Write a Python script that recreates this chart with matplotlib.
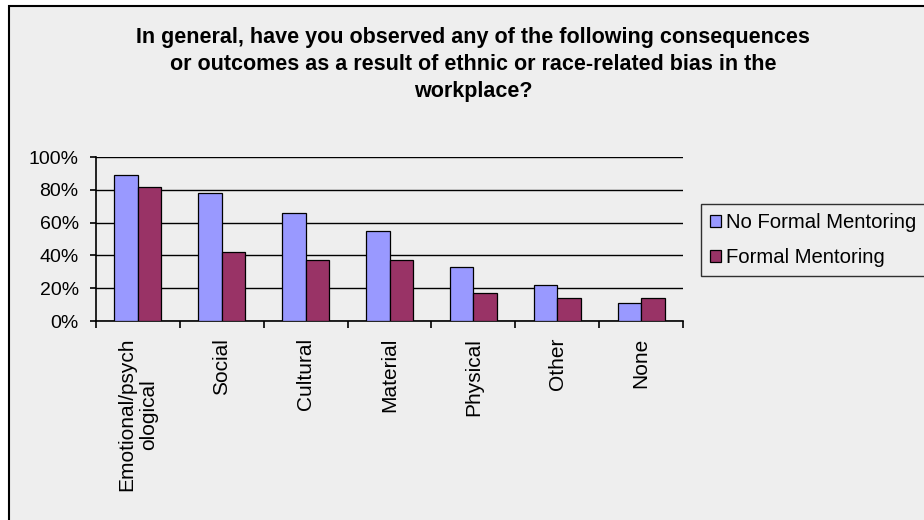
import numpy as np
import matplotlib.pyplot as plt
from matplotlib.patches import Rectangle

categories = ["Emotional/psych\nological", "Social", "Cultural", "Material",
              "Physical", "Other", "None"]
no_formal = [89, 78, 66, 55, 33, 22, 11]
formal = [82, 42, 37, 37, 17, 14, 14]
yticks = [0, 20, 40, 60, 80, 100]

plt.rcParams['font.family'] = ['Liberation Sans', 'DejaVu Sans']

W, H = 924, 520
fig = plt.figure(figsize=(W / 100, H / 100), dpi=100, facecolor='white')

# chart area frame (runs off right/bottom edges like the source)
frame = Rectangle((9 / W, -0.05), 1.0, 1 - 6 / H + 0.05,
                  transform=fig.transFigure, facecolor='#EEEEEE',
                  edgecolor='black', linewidth=1.5, zorder=-10)
fig.add_artist(frame)

ax = fig.add_axes([96 / W, 1 - 321 / H, (683 - 96) / W, (321 - 157) / H])
ax.set_facecolor('none')

x = np.arange(len(categories))
w = 0.28
ax.bar(x - w / 2, no_formal, w, color='#9999FF', edgecolor='black',
       linewidth=0.9, label='No Formal Mentoring', zorder=3)
ax.bar(x + w / 2, formal, w, color='#993366', edgecolor='black',
       linewidth=0.9, label='Formal Mentoring', zorder=3)

ax.set_xlim(-0.5, len(categories) - 0.5)
ax.set_ylim(0, 100)
ax.set_yticks(yticks)
ax.set_yticklabels([f"{v}%" for v in yticks], fontsize=14)
ax.yaxis.grid(True, color='black', linewidth=1.0, zorder=1)
ax.tick_params(axis='y', length=4.5, width=1.2, pad=8)

ax.set_xticks(x)
ax.set_xticklabels(categories, rotation=90, fontsize=15, va='top',
                   ha='center', multialignment='center')
ax.tick_params(axis='x', length=0, pad=12)
ax.set_xticks(np.arange(-0.5, len(categories)), minor=True)
ax.tick_params(axis='x', which='minor', length=5, width=1.2)

for s in ['top', 'right']:
    ax.spines[s].set_visible(False)
for s in ['left', 'bottom']:
    ax.spines[s].set_linewidth(1.2)

fig.text(473 / W, 1 - 27 / H,
         "In general, have you observed any of the following consequences\n"
         "or outcomes as a result of ethnic or race-related bias in the\n"
         "workplace?",
         ha='center', va='top', fontsize=15.5, fontweight='bold',
         linespacing=1.39)

leg = ax.legend(loc='upper left', bbox_to_anchor=(700.5 / W, 1 - 204 / H),
                bbox_transform=fig.transFigure, frameon=True, fancybox=False,
                fontsize=14.6, handlelength=0.55, handleheight=0.55,
                handletextpad=0.25, borderpad=0.45, labelspacing=0.8,
                borderaxespad=0)
leg.get_frame().set_edgecolor('black')
leg.get_frame().set_linewidth(1.0)
leg.get_frame().set_facecolor('#EEEEEE')

fig.savefig('out.png', dpi=100, facecolor='white')
